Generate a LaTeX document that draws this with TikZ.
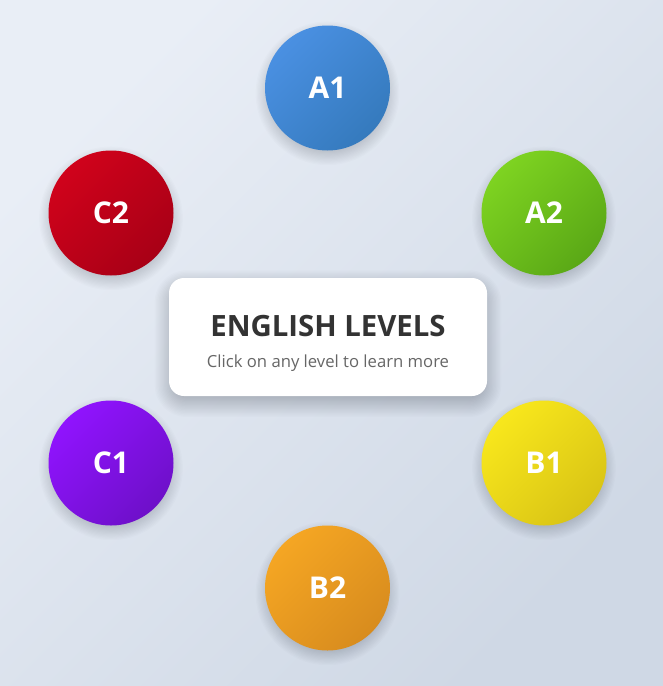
\documentclass[tikz,border=0pt]{standalone}
\usepackage{fontspec}
\setmainfont{Open Sans}

\definecolor{bgtop}{HTML}{E9EEF6}
\definecolor{bgbot}{HTML}{CFD8E5}
\definecolor{aonetop}{HTML}{4A90E2}
\definecolor{aonebot}{HTML}{357ABD}
\definecolor{atwotop}{HTML}{7ED321}
\definecolor{atwobot}{HTML}{5AA816}
\definecolor{bonetop}{HTML}{F8E71C}
\definecolor{bonebot}{HTML}{D9C415}
\definecolor{btwotop}{HTML}{F5A623}
\definecolor{btwobot}{HTML}{D88C1E}
\definecolor{conetop}{HTML}{9013FE}
\definecolor{conebot}{HTML}{6E10C9}
\definecolor{ctwotop}{HTML}{D0021B}
\definecolor{ctwobot}{HTML}{A80016}
\definecolor{titlegray}{HTML}{333333}
\definecolor{subgray}{HTML}{666666}

\begin{document}
\begin{tikzpicture}[x=0.75pt,y=-0.75pt]

\tikzset{level/.style = {shape=circle,minimum size=93.75pt,inner sep=0pt,text=white,
  font=\bfseries\fontsize{22.5}{24}\selectfont}}
\tikzset{lvl/.style 2 args = {level,top color=#1,bottom color=#2,shading angle=45}}
\tikzset{card/.style = {shape=rectangle,rounded corners=11.25pt,fill=white,
  minimum width=238.5pt,minimum height=88.5pt}}
\tikzset{shade layer/.style = {fill=black,opacity=0.012,draw=none}}

% background
\useasboundingbox (0,0) rectangle (663,686);
\shade[top color=bgtop,bottom color=bgbot,shading angle=45] (0,0) rectangle (663,686);

% level positions
\coordinate (pa1) at (327.5,88);
\coordinate (pa2) at (544,213);
\coordinate (pb1) at (544,463);
\coordinate (pb2) at (327.5,588);
\coordinate (pc1) at (111,463);
\coordinate (pc2) at (111,213);
\coordinate (pbox) at (328,337);

% soft shadows
\foreach \p in {pa1,pa2,pb1,pb2,pc1,pc2}
  \foreach \k in {0,...,11}
    \fill[shade layer] ([yshift=-4pt]\p) circle (44pt+\k*0.9pt);
\foreach \k in {0,...,15} {
  \pgfmathsetmacro{\rc}{9+\k*1.0}
  \node[shade layer,shape=rectangle,rounded corners=\rc pt,
    minimum width=230pt+\k*2pt,minimum height=80pt+\k*2pt] (sh\k) at ([yshift=-5pt]pbox) {};
}

% centre card
\node[card] (box) at (pbox) {};
\node[anchor=base,text=titlegray,font=\bfseries\fontsize{22}{24}\selectfont] (title) at (328,336) {ENGLISH LEVELS};
\node[anchor=base,text=subgray,font=\fontsize{12.5}{14}\selectfont] (sub) at (328,367) {Click on any level to learn more};

% levels
\node[lvl={aonetop}{aonebot}] (a1) at (pa1) {A1};
\node[lvl={atwotop}{atwobot}] (a2) at (pa2) {A2};
\node[lvl={bonetop}{bonebot}] (b1) at (pb1) {B1};
\node[lvl={btwotop}{btwobot}] (b2) at (pb2) {B2};
\node[lvl={conetop}{conebot}] (c1) at (pc1) {C1};
\node[lvl={ctwotop}{ctwobot}] (c2) at (pc2) {C2};
\end{tikzpicture}
\end{document}
